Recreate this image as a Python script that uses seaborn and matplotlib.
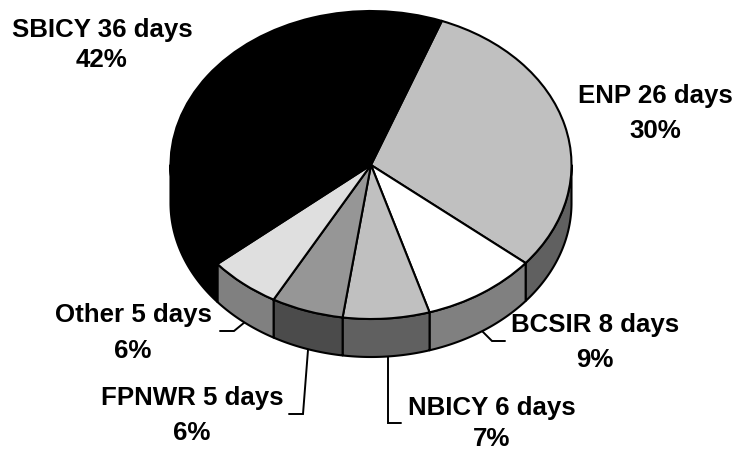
import numpy as np
import matplotlib
matplotlib.use("Agg")
import matplotlib.pyplot as plt
import seaborn as sns

sites = ["ENP", "BCSIR", "NBICY", "FPNWR", "Other", "SBICY"]
days = [26, 8, 6, 5, 5, 36]
top_colors = ["#c0c0c0", "#ffffff", "#c0c0c0", "#969696", "#dfdfdf", "#000000"]
wall_colors = ["#606060", "#808080", "#606060", "#4b4b4b", "#808080", "#000000"]

sns.set_theme(style="white")
plt.rcParams["font.family"] = ["Liberation Sans", "DejaVu Sans"]

W, H = 736, 453
CX, CY, RX, RY, DEPTH = 371, 165, 200.5, 154, 38
depth = DEPTH / RY


def px(x, y):
    return (x - CX) / RX, (CY - y) / RY


fig = plt.figure(figsize=(W / 100, H / 100), dpi=100)
ax = fig.add_axes([0, 0, 1, 1])

wedges, _ = ax.pie(days, colors=top_colors, startangle=69.3, counterclock=False,
                   radius=1, center=(0, 0),
                   wedgeprops=dict(edgecolor="black", linewidth=1.5, zorder=5))
ax.set_aspect("auto")
ax.set_xlim(px(0, 0)[0], px(W, 0)[0])
ax.set_ylim(px(0, H)[1], px(0, 0)[1])
ax.axis("off")

# Rim of the pie, taken from the wedge angles
for wedge, colour in zip(wedges, wall_colors):
    t1, t2 = wedge.theta1 % 360, wedge.theta2 % 360
    if t2 <= t1:
        t2 += 360
    for shift in (0, 360, -360):
        a, b = max(t1 + shift, 180), min(t2 + shift, 360)
        if b > a:
            th = np.radians(np.linspace(a, b, 80))
            xs = np.cos(th)
            ys = np.sin(th)
            ax.fill(np.r_[xs, xs[::-1]], np.r_[ys, ys[::-1] - depth],
                    facecolor=colour, edgecolor="black", linewidth=1.5,
                    zorder=2, joinstyle="round")

# Labels
total = sum(days)
label_pos = {
    "ENP": (655, 96, 131),
    "BCSIR": (595, 325, 360),
    "NBICY": (492, 408, 439),
    "FPNWR": (192, 398, 433),
    "Other": (133, 315, 351),
    "SBICY": (102, 30, 60),
}
FS = 18.6
for site, d in zip(sites, days):
    x, y1, y2 = label_pos[site]
    ax.text(*px(x, y1), f"{site} {d} days", ha="center", va="center",
            fontsize=FS, fontweight="bold", color="black", zorder=8)
    ax.text(*px(x, y2), f"{round(100 * d / total)}%", ha="center", va="center",
            fontsize=FS, fontweight="bold", color="black", zorder=8)

# Leader lines
leaders = [
    [(220, 331), (234, 331), (245, 322)],
    [(482, 331), (492, 341), (505, 341)],
    [(308, 350), (303, 414), (289, 414)],
    [(388, 356), (388, 423), (401, 423)],
]
for pts in leaders:
    xy = np.array([px(*p) for p in pts])
    ax.plot(xy[:, 0], xy[:, 1], color="black", lw=1.4, zorder=1,
            solid_joinstyle="miter")

fig.savefig("out.png", dpi=100, facecolor="white")
